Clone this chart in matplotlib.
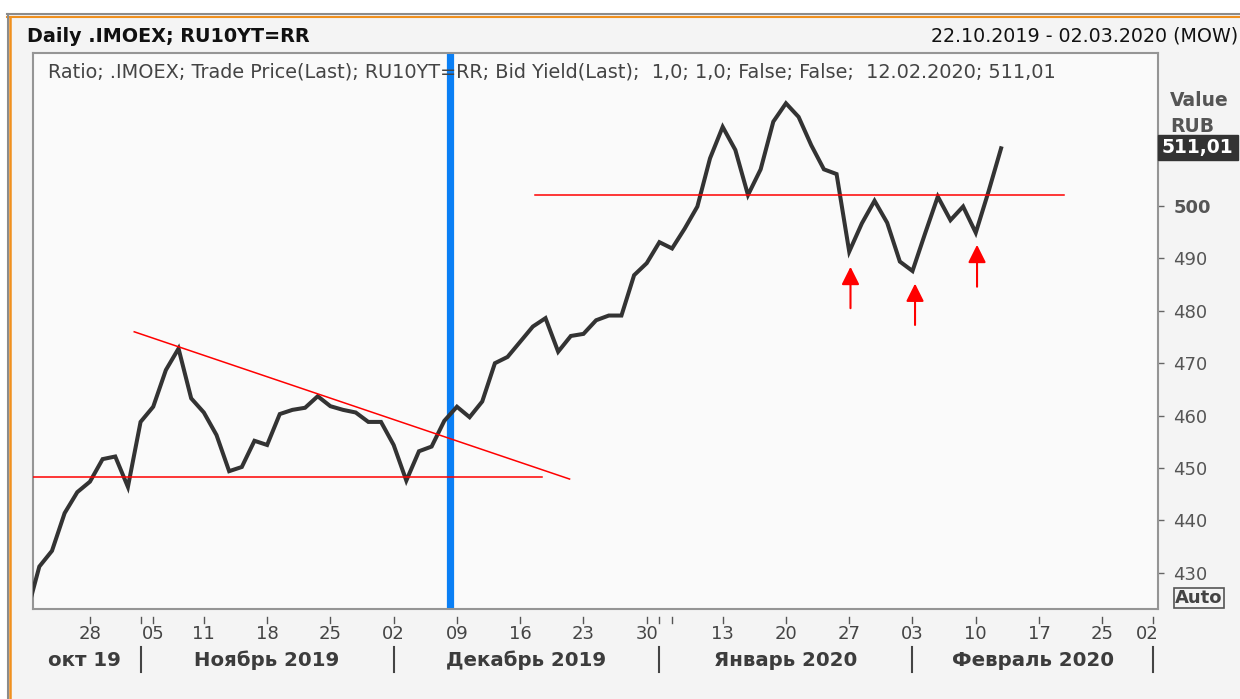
import matplotlib.pyplot as plt
import numpy as np
import pandas as pd

W, H = 1240, 699
FONT = 'DejaVu Sans'

# trading days (MOEX calendar, holidays removed)
holidays = ['2019-11-04', '2019-12-31', '2020-01-01', '2020-01-02', '2020-01-07', '2020-02-24']
dates = [d for d in pd.bdate_range('2019-10-21', '2020-03-02') if d.strftime('%Y-%m-%d') not in holidays]

# .IMOEX / RU10YT ratio, Oct 21 2019 .. Feb 12 2020
ratio = [422.2, 431.2, 434.2, 441.4, 445.4, 447.4, 451.7, 452.2, 446.4, 458.8,
         461.7, 468.7, 472.8, 463.3, 460.6, 456.3, 449.4, 450.2, 455.2, 454.4,
         460.3, 461.1, 461.5, 463.7, 461.8, 461.1, 460.6, 458.8, 458.8, 454.4,
         447.6, 453.2, 454.1, 459.0, 461.7, 459.7, 462.7, 470.0, 471.2, 474.1,
         477.0, 478.6, 472.2, 475.2, 475.6, 478.2, 479.1, 479.1, 486.8, 489.1,
         493.1, 491.9, 495.7, 499.9, 509.1, 515.1, 510.7, 502.1, 507.0, 516.1,
         519.6, 517.0, 511.6, 507.0, 506.1, 491.3, 496.7, 501.0, 496.8, 489.4,
         487.6, 494.8, 501.8, 497.3, 499.9, 494.9, 502.7, 511.01]

y_ticks = [430, 440, 450, 460, 470, 480, 490, 500, 510]

tick_dates = ['2019-10-28', '2019-11-01', '2019-11-05', '2019-11-11', '2019-11-18', '2019-11-25',
              '2019-12-02', '2019-12-09', '2019-12-16', '2019-12-23', '2019-12-30', '2020-01-03',
              '2020-01-06', '2020-01-13', '2020-01-20', '2020-01-27', '2020-02-03', '2020-02-10',
              '2020-02-17', '2020-02-25', '2020-03-02']
label_dates = ['2019-10-28', '2019-11-05', '2019-11-11', '2019-11-18', '2019-11-25', '2019-12-02',
               '2019-12-09', '2019-12-16', '2019-12-23', '2019-12-30', '2020-01-13', '2020-01-20',
               '2020-01-27', '2020-02-03', '2020-02-10', '2020-02-17', '2020-02-25', '2020-03-02']
month_starts = ['2019-11-01', '2019-12-02', '2020-01-03', '2020-02-03', '2020-03-02']
month_names = ['окт 19', 'Ноябрь 2019', 'Декабрь 2019', 'Январь 2020', 'Февраль 2020']

# drawn annotations: (x in trading days, value)
support = [(0.5, 448.3), (40.7, 448.3)]
trend = [(8.5, 476.0), (42.9, 447.9)]
resistance = [(40.2, 502.1), (82.0, 502.1)]
arrows = [(65.1, 488.4, 480.5), (70.2, 485.2, 477.3), (75.1, 492.6, 484.6)]
cursor_x = 33.45

pos = {d.strftime('%Y-%m-%d'): i for i, d in enumerate(dates)}


def fx(x):
    return x / W


def fy(y):
    return 1 - y / H


fig = plt.figure(figsize=(W / 100, H / 100), dpi=100, facecolor='#f4f4f4')

# outer frame
fig.patches.append(plt.Rectangle((0, fy(13)), 1, 1, transform=fig.transFigure, color='white', zorder=-5))
fig.patches.append(plt.Rectangle((0, 0), fx(7), 1, transform=fig.transFigure, color='white', zorder=-5))
fig.add_artist(plt.Line2D([fx(7), 1], [fy(14), fy(14)], color='#8c8c8c', lw=1.5))
fig.add_artist(plt.Line2D([fx(7), 1], [fy(16.5), fy(16.5)], color='#f0901e', lw=1.5))
fig.add_artist(plt.Line2D([fx(7.5), fx(7.5)], [0, fy(14)], color='#8c8c8c', lw=1.5))
fig.add_artist(plt.Line2D([fx(9.8), fx(9.8)], [0, fy(16.5)], color='#f0901e', lw=1.8))

ax = fig.add_axes([fx(33), fy(609), fx(1158 - 33), (609 - 53) / H])
ax.set_facecolor('#fafafa')
for s in ax.spines.values():
    s.set_color('#959595')
    s.set_linewidth(1.5)

x = np.arange(len(ratio))
ax.axvline(cursor_x, color='#0a7ff5', lw=5.2, zorder=1)
ax.plot(x, ratio, color='#333333', lw=2.9, solid_joinstyle='miter', zorder=3)
for seg in (support, trend, resistance):
    ax.plot([p[0] for p in seg], [p[1] for p in seg], color='#ff0000', lw=1.1, zorder=4)
for ax_x, tip, tail in arrows:
    ax.annotate('', xy=(ax_x, tip), xytext=(ax_x, tail),
                arrowprops=dict(arrowstyle='-|>,head_length=0.6,head_width=0.3', color='#ff0000',
                                lw=1.5, mutation_scale=18, shrinkA=0, shrinkB=0))

ax.set_xlim(0.5, 89.4)
ax.set_ylim(423.1, 529.2)

ax.yaxis.tick_right()
ax.set_yticks(y_ticks)
ax.set_yticklabels([str(v) for v in y_ticks])
ax.tick_params(axis='y', direction='out', length=4, width=1, color='#666666', pad=7,
               labelsize=13, labelcolor='#555555')
for lab in ax.get_yticklabels():
    lab.set_fontfamily(FONT)
    if lab.get_text() == '500':
        lab.set_fontweight('bold')
ax.set_xticks([])

# x axis: detached tick marks, day numbers, month separators
trans = ax.get_xaxis_transform()
for d in tick_dates:
    ax.plot([pos[d], pos[d]], [-(617 - 609) / 556, -(623 - 609) / 556], transform=trans,
            color='#555555', lw=1, clip_on=False)
for d in label_dates:
    lx = pos[d] - (0.45 if d == label_dates[-1] else 0)
    ax.text(lx, -(634 - 609) / 556, d[8:], transform=trans, ha='center', va='center',
            fontsize=13, color='#444444', family=FONT)
for d in month_starts:
    ax.plot([pos[d], pos[d]], [-(647 - 609) / 556, -(672 - 609) / 556], transform=trans,
            color='#444444', lw=1.5, clip_on=False)
month_x = [pos['2019-10-28'] - 0.4] + [(pos[a] + pos[b]) / 2 for a, b in zip(month_starts[:-1], month_starts[1:])]
for mx, name in zip(month_x, month_names):
    ax.text(mx, -(660 - 609) / 556, name, transform=trans, ha='center', va='center',
            fontsize=14.2, fontweight='bold', color='#3c3c3c', family=FONT)

# texts
fig.text(fx(27), fy(36), 'Daily .IMOEX; RU10YT=RR', fontsize=13.8, fontweight='bold',
         color='#111111', va='center', family=FONT)
fig.text(fx(1238), fy(36), '22.10.2019 - 02.03.2020 (MOW)', fontsize=13.7, color='#111111',
         va='center', ha='right', family=FONT)
ax.text((48 - 33) / (1158 - 33), 1 - (72 - 53) / 556,
        'Ratio; .IMOEX; Trade Price(Last); RU10YT=RR; Bid Yield(Last);  1,0; 1,0; False; False;  12.02.2020; 511,01',
        transform=ax.transAxes, fontsize=13.9, color='#444444', va='center', family=FONT, zorder=6)
fig.text(fx(1170), fy(101), 'Value', fontsize=13.5, fontweight='bold', color='#555555',
         va='center', family=FONT)
fig.text(fx(1170), fy(127), 'RUB', fontsize=13.5, fontweight='bold', color='#555555',
         va='center', family=FONT)
fig.patches.append(plt.Rectangle((fx(1158), fy(160)), fx(80), 25 / H, transform=fig.transFigure,
                                 color='#333333', zorder=5))
fig.text(fx(1197), fy(147.5), '511,01', fontsize=13.5, fontweight='bold', color='white',
         va='center', ha='center', family=FONT, zorder=6)
fig.text(fx(1199), fy(598), 'Auto', fontsize=13, fontweight='bold', color='#444444',
         va='center', ha='center', family=FONT,
         bbox=dict(boxstyle='square,pad=0.08', fc='#f4f4f4', ec='#555555', lw=1.2))

plt.savefig('out.png', dpi=100, facecolor=fig.get_facecolor())
